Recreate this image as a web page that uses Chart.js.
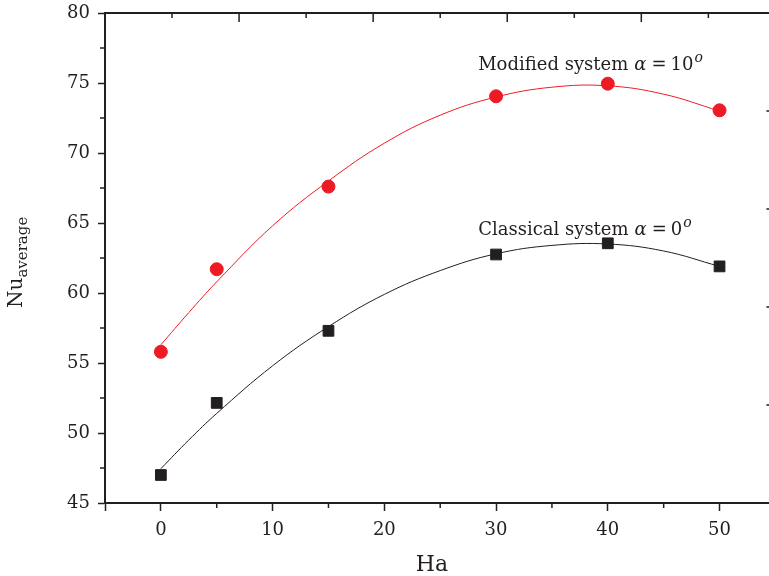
<!DOCTYPE html>
<html>
<head>
<meta charset="utf-8">
<script src="https://cdn.jsdelivr.net/npm/chart.js@4.4.0/dist/chart.umd.min.js"></script>
<style>
  html, body { margin: 0; padding: 0; background: #fff; overflow: hidden; }
  #wrap { width: 769px; height: 576px; overflow: hidden; }
</style>
</head>
<body>
<div id="wrap"><canvas id="grafica" width="784" height="576"></canvas></div>
<script>
// Datos medidos (Ha vs Nu promedio)
const haValores = [0, 5, 15, 30, 40, 50];
const nuModificado = [55.8, 61.7, 67.6, 74.05, 74.95, 73.05];
const nuClasico = [47.0, 52.15, 57.3, 62.75, 63.55, 61.9];

// Curvas de ajuste
const ajusteHa = [0, 2.5, 5, 10, 15, 20, 25, 30, 35, 40, 45, 50];
const ajusteModificado = [56.3, 58.6, 60.8, 64.8, 68.0, 70.7, 72.7, 74.0, 74.7, 74.8, 74.2, 73.0];
const ajusteClasico = [47.45, 49.5, 51.4, 54.8, 57.6, 59.9, 61.6, 62.8, 63.4, 63.5, 63.0, 61.9];

// Marcas de los ejes
const xMayores = [-5, 0, 10, 20, 30, 40, 50, 55];
const xMenores = [5, 15, 25, 35, 45];
const yMayores = [45, 50, 55, 60, 65, 70, 75, 80];
const yMenores = [47.5, 52.5, 57.5, 62.5, 67.5, 72.5, 77.5];
const superiorMayores = [2, 4, 6, 8];
const superiorMenores = [1, 3, 5, 7, 9];
const derechaMarcas = [1, 2, 3, 4];

const ROJO = '#ED1C24';
const NEGRO = '#231F20';
const FUENTE = "'DejaVu Serif', serif";

const puntos = (xs, ys) => xs.map((x, i) => ({ x: x, y: ys[i] }));

// quitar el relleno automático que Chart.js añade por las etiquetas
function fijarTamano(s, ancho, alto) {
  if (ancho !== null) s.width = ancho;
  if (alto !== null) s.height = alto;
  s.paddingTop = 0;
  s.paddingBottom = 0;
  s.paddingLeft = 0;
  s.paddingRight = 0;
}

// Dibuja marcas menores, ejes secundarios, títulos y etiquetas
const extras = {
  id: 'extras',
  afterDraw(chart) {
    const ctx = chart.ctx;
    const { x, y, x2, y2 } = chart.scales;
    const area = chart.chartArea;
    ctx.save();
    ctx.strokeStyle = NEGRO;
    ctx.lineWidth = 1.5;
    ctx.beginPath();
    xMenores.forEach(v => {
      const px = x.getPixelForValue(v);
      ctx.moveTo(px, area.bottom); ctx.lineTo(px, area.bottom + 5);
    });
    yMenores.forEach(v => {
      const py = y.getPixelForValue(v);
      ctx.moveTo(area.left - 5, py); ctx.lineTo(area.left, py);
    });
    superiorMayores.forEach(v => {
      const px = x2.getPixelForValue(v);
      ctx.moveTo(px, area.top); ctx.lineTo(px, area.top + 9);
    });
    superiorMenores.forEach(v => {
      const px = x2.getPixelForValue(v);
      ctx.moveTo(px, area.top); ctx.lineTo(px, area.top + 5);
    });
    derechaMarcas.forEach(v => {
      const py = y2.getPixelForValue(v);
      ctx.moveTo(area.right - 9, py); ctx.lineTo(area.right, py);
    });
    ctx.stroke();

    ctx.fillStyle = NEGRO;
    ctx.textBaseline = 'alphabetic';

    // Título eje X
    ctx.font = '22px ' + FUENTE;
    ctx.textAlign = 'center';
    ctx.fillText('Ha', 432, 571);

    // Título eje Y con subíndice
    ctx.save();
    ctx.translate(22, 308);
    ctx.rotate(-Math.PI / 2);
    ctx.textAlign = 'left';
    ctx.font = '20px ' + FUENTE;
    ctx.fillText('Nu', 0, 0);
    const w = ctx.measureText('Nu').width;
    ctx.font = '15px ' + FUENTE;
    ctx.fillText('average', w, 5);
    ctx.restore();

    // Etiquetas de las curvas
    const etiqueta = (texto, grados, vx, vy) => {
      let px = x.getPixelForValue(vx);
      const py = y.getPixelForValue(vy);
      ctx.textAlign = 'left';
      ctx.font = '18px ' + FUENTE;
      ctx.fillText(texto, px, py);
      px += ctx.measureText(texto).width + 6;
      ctx.font = 'italic 18px ' + FUENTE;
      ctx.fillText('α', px, py);
      px += ctx.measureText('α').width + 5;
      ctx.font = '18px ' + FUENTE;
      ctx.fillText('=', px, py);
      px += ctx.measureText('=').width + 4;
      ctx.fillText(grados, px, py);
      px += ctx.measureText(grados).width + 1;
      ctx.font = 'italic 14px ' + FUENTE;
      ctx.fillText('o', px, py - 8);
    };
    etiqueta('Modified system', '10', 28.4, 75.93);
    etiqueta('Classical system', '0', 28.4, 64.14);
    ctx.restore();
  }
};

const ctx = document.getElementById('grafica').getContext('2d');
new Chart(ctx, {
  type: 'line',
  data: {
    datasets: [
      {
        label: 'Modified system',
        type: 'scatter',
        data: puntos(haValores, nuModificado),
        backgroundColor: ROJO,
        borderColor: ROJO,
        pointStyle: 'circle',
        pointRadius: 6.5,
        order: 0
      },
      {
        label: 'Classical system',
        type: 'scatter',
        data: puntos(haValores, nuClasico),
        backgroundColor: NEGRO,
        borderColor: NEGRO,
        pointStyle: 'rect',
        pointRadius: 7.6,
        order: 0
      },
      {
        label: 'Ajuste modificado',
        data: puntos(ajusteHa, ajusteModificado),
        borderColor: ROJO,
        borderWidth: 1,
        pointRadius: 0,
        tension: 0.4,
        fill: false,
        order: 1
      },
      {
        label: 'Ajuste clasico',
        data: puntos(ajusteHa, ajusteClasico),
        borderColor: NEGRO,
        borderWidth: 1,
        pointRadius: 0,
        tension: 0.4,
        fill: false,
        order: 1
      }
    ]
  },
  options: {
    responsive: false,
    animation: false,
    layout: { padding: 0 },
    plugins: {
      legend: { display: false },
      tooltip: { enabled: false }
    },
    scales: {
      x: {
        type: 'linear',
        position: 'bottom',
        min: -5,
        max: 55,
        afterBuildTicks: s => { s.ticks = xMayores.map(v => ({ value: v })); },
        afterFit: s => fijarTamano(s, null, 73),
        ticks: {
          autoSkip: false,
          maxRotation: 0,
          padding: 9,
          color: NEGRO,
          font: { family: FUENTE, size: 18 },
          callback: v => (v >= 0 && v <= 50 ? String(v) : '')
        },
        grid: { drawOnChartArea: false, drawTicks: true, tickLength: 8, tickColor: NEGRO, tickWidth: 1.5 },
        border: { color: NEGRO, width: 2 }
      },
      x2: {
        type: 'linear',
        position: 'top',
        min: 0,
        max: 10,
        afterFit: s => fijarTamano(s, null, 13),
        ticks: { display: false },
        grid: { display: false },
        border: { color: NEGRO, width: 2 }
      },
      y: {
        type: 'linear',
        position: 'left',
        min: 45,
        max: 80,
        afterBuildTicks: s => { s.ticks = yMayores.map(v => ({ value: v })); },
        afterFit: s => fijarTamano(s, 105, null),
        ticks: {
          autoSkip: false,
          padding: 8,
          color: NEGRO,
          font: { family: FUENTE, size: 18 }
        },
        grid: { drawOnChartArea: false, drawTicks: true, tickLength: 7, tickColor: NEGRO, tickWidth: 1.5 },
        border: { color: NEGRO, width: 2 }
      },
      y2: {
        type: 'linear',
        position: 'right',
        min: 0,
        max: 5,
        afterFit: s => fijarTamano(s, 6, null),
        ticks: { display: false },
        grid: { display: false },
        border: { color: NEGRO, width: 2 }
      }
    }
  },
  plugins: [extras]
});
</script>
</body>
</html>
